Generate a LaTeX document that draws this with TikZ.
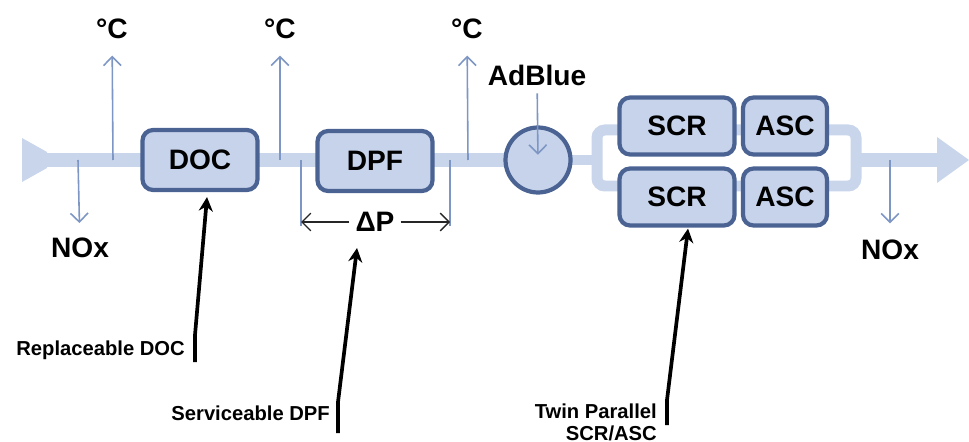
\documentclass[tikz,border=0pt]{standalone}
\usepackage{fontspec}
\setmainfont{Liberation Sans}
\usetikzlibrary{arrows.meta}

\definecolor{pipeblue}{HTML}{C9D5EB}
\definecolor{boxfill}{HTML}{C6D3EB}
\definecolor{boxline}{HTML}{4A6393}
\definecolor{sensorblue}{HTML}{7D96C4}

\tikzset{
  exhaust/.style={
    pipe/.style={draw=pipeblue, line width=0.3cm},
    bypass/.style={draw=pipeblue, line width=0.22cm, rounded corners=4.5pt},
    sensor/.style={draw=sensorblue, line width=0.9pt},
    reading/.style={font=\fontsize{16}{18}\selectfont\bfseries},
    note/.style={font=\fontsize{11.5}{12.5}\selectfont\bfseries, align=right},
    callout/.style={draw=black, line width=2.1pt, -{Stealth[length=8pt,width=8pt]}},
  }
}

\begin{document}
\begin{tikzpicture}[x=0.02cm, y=-0.02cm, exhaust]
        \tikzstyle{unit}=[draw=boxline, fill=boxfill, line width=2.4pt, rounded corners=6pt, font=\fontsize{16}{18}\selectfont\bfseries]
        \tikzstyle{injector}=[circle, draw=boxline, fill=boxfill, line width=2.4pt, minimum size=1.3cm, inner sep=0pt]

        \useasboundingbox (0,0) rectangle (969,442);

        % exhaust line
        \coordinate (inlet) at (47,160);
        \coordinate (split) at (597,160);
        \coordinate (merge) at (856,160);
        \coordinate (outlet) at (937,160);
        \fill[pipeblue] (22,138) -- (inlet |- 0,152) -- (inlet |- 0,168) -- (22,182) -- cycle;
        \draw[pipe] (inlet) -- (538,160);
        \draw[bypass] (538,160) -- (split);
        \draw[bypass] (split |- 0,130) rectangle (merge |- 0,186);
        \draw[pipe] (merge) -- (outlet);
        \fill[pipeblue] (937,137) -- (969,160) -- (937,183) -- cycle;

        % units
        \node[unit, minimum width=2.3cm, minimum height=1.2cm] (DOC) at (200,160) {DOC};
        \node[unit, minimum width=2.3cm, minimum height=1.2cm] (DPF) at (375,161) {DPF};
        \node[injector] (inj) at (538,160) {};
        \node[unit, minimum width=2.3cm, minimum height=1.14cm] (SCRa) at (677,126) {SCR};
        \node[unit, minimum width=1.68cm, minimum height=1.14cm] (ASCa) at (785,126) {ASC};
        \node[unit, minimum width=2.3cm, minimum height=1.14cm] (SCRb) at (677,197) {SCR};
        \node[unit, minimum width=1.68cm, minimum height=1.14cm] (ASCb) at (785,197) {ASC};

        % sensors
        \coordinate (t1) at (113,160);
        \coordinate (t2) at (280,160);
        \coordinate (t3) at (468,160);
        \coordinate (n1) at (78,160);
        \coordinate (n2) at (890,160);
        \node[reading] (degA) at (112,29) {°C};
        \node[reading] (degB) at (280,29) {°C};
        \node[reading] (degC) at (467,29) {°C};
        \node[reading] (noxA) at (80,248) {NOx};
        \node[reading] (noxB) at (890,250) {NOx};
        \node[reading] (adblue) at (537,75) {AdBlue};

        \draw[sensor, -{Straight Barb[length=5pt,width=10pt]}, shorten >=6pt] (t1) -- (degA);
        \draw[sensor, -{Straight Barb[length=5pt,width=10pt]}, shorten >=6pt] (t2) -- (degB);
        \draw[sensor, -{Straight Barb[length=5pt,width=10pt]}, shorten >=6pt] (t3) -- (degC);
        \draw[sensor, -{Straight Barb[length=5pt,width=10pt]}, shorten >=5pt] (n1) -- (noxA);
        \draw[sensor, -{Straight Barb[length=5pt,width=10pt]}, shorten >=6pt] (n2) -- (noxB);
        \draw[sensor, -{Straight Barb[length=5pt,width=10pt]}, shorten <=1pt, shorten >=3pt] (adblue) -- (inj.center);

        % pressure drop over the DPF
        \coordinate (dpA) at (301,160);
        \coordinate (dpB) at (450,160);
        \node[reading] (dp) at (375,222) {ΔP};
        \draw[sensor] (dpA) -- (dpA |- 0,226);
        \draw[sensor] (dpB) -- (dpB |- 0,226);
        \draw[draw=black!85, line width=0.8pt, -{Straight Barb[length=5pt,width=10pt]}] (dp) -- (dp -| dpA);
        \draw[draw=black!85, line width=0.8pt, -{Straight Barb[length=5pt,width=10pt]}] (dp) -- (dp -| dpB);

        % notes
        \node[note, anchor=east] (noteDOC) at (191,350) {Replaceable DOC};
        \node[note, anchor=east] (noteDPF) at (336,413) {Serviceable DPF};
        \node[note, anchor=east] (noteSCR) at (663,422) {Twin Parallel\\SCR/ASC};

        \draw[callout] ([shift={(4,12)}]noteDOC.east) -- ([shift={(4,-15)}]noteDOC.east) -- ([shift={(7,5)}]DOC.south);
        \draw[callout] ([shift={(2,20)}]noteDPF.east) -- ([shift={(2,-11)}]noteDPF.east) -- ([shift={(-18,26)}]dp.center);
        \draw[callout] ([shift={(4,3)}]noteSCR.east) -- ([shift={(4,-22)}]noteSCR.east) -- ([shift={(11,1)}]SCRb.south);
\end{tikzpicture}
\end{document}
